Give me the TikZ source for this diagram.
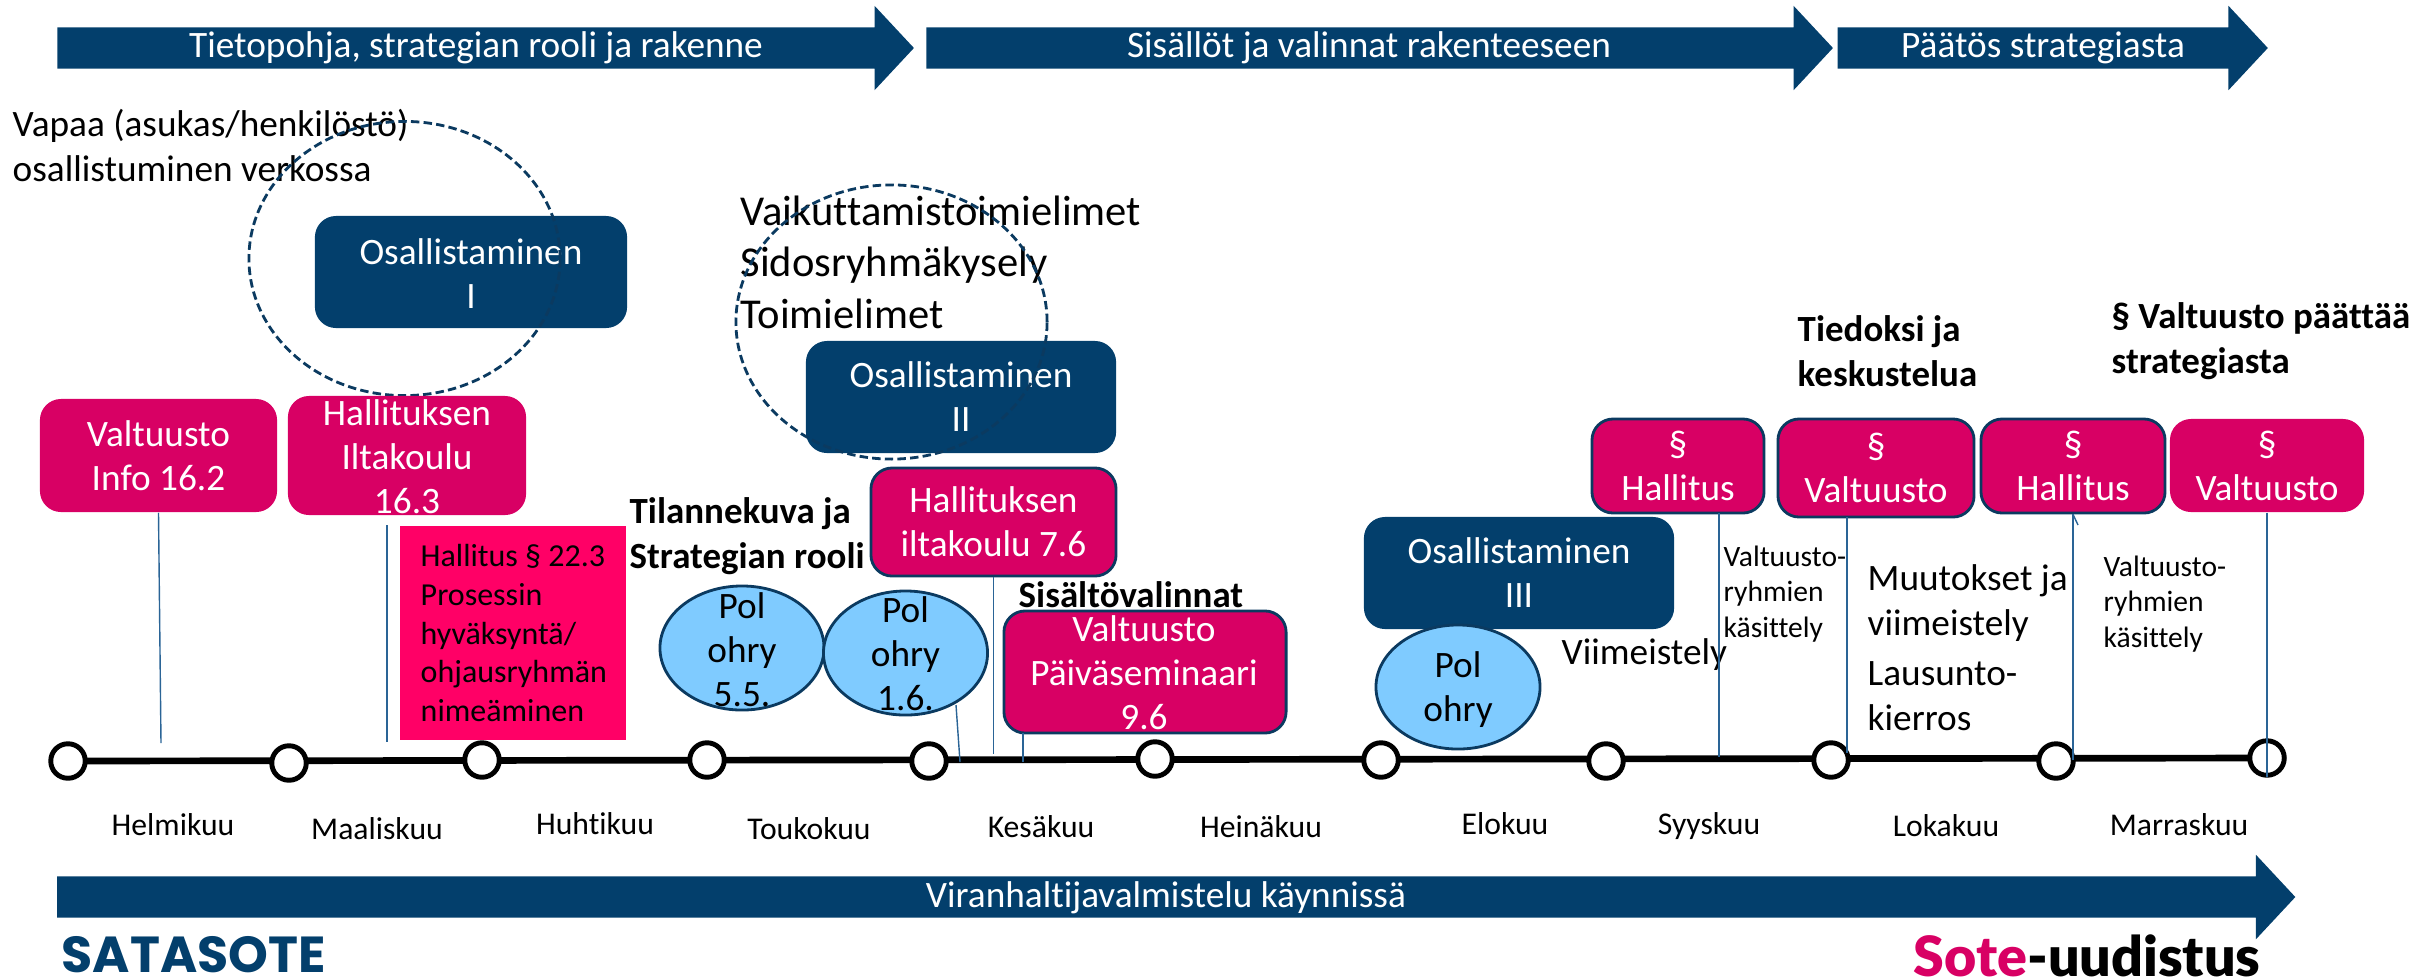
\documentclass[tikz,border=0pt]{standalone}
\usepackage{fontspec}
\setmainfont{Carlito}[Ligatures=NoCommon]
\newfontfamily\logofont{Lato Black}
\newfontfamily\satafont{Poppins}[UprightFont=* Bold]
\usetikzlibrary{positioning}
\usetikzlibrary{shapes.geometric}
\usetikzlibrary{shapes.arrows}
\definecolor{navy}{HTML}{033F6C}
\definecolor{magenta}{HTML}{D80064}
\definecolor{hotred}{HTML}{FF0066}
\definecolor{sky}{HTML}{7FCBFF}
\definecolor{rim}{HTML}{0B3A60}
\definecolor{leader}{HTML}{2A6496}
\tikzset{band/.style={single arrow,fill=navy,inner sep=0pt,text height=4mm,text depth=0pt,minimum width=8.3mm,single arrow head extend=2.15mm,single arrow tip angle=94}}
\tikzset{bandtext/.style={text=white,inner sep=0pt,font=\fontsize{10.6}{12.5}\selectfont}}
\tikzset{navybox/.style={fill=navy,rounded corners=6pt,inner sep=0pt}}
\tikzset{pinkbox/.style={fill=magenta,rounded corners=6pt,inner sep=0pt}}
\tikzset{rimbox/.style={pinkbox,draw=rim,line width=0.8pt}}
\tikzset{boxtext/.style={text=white,align=center,inner sep=0pt,font=\fontsize{10.6}{12.5}\selectfont}}
\tikzset{plain/.style={anchor=west,align=left,inner sep=0pt,font=\fontsize{10.6}{12.8}\selectfont}}
\tikzset{big/.style={plain,font=\fontsize{12.1}{14.65}\selectfont}}
\tikzset{heavy/.style={plain,font=\fontsize{10.5}{12.7}\selectfont\bfseries}}
\tikzset{small/.style={plain,font=\fontsize{8.4}{10}\selectfont}}
\tikzset{month/.style={inner sep=0pt,font=\fontsize{9}{10}\selectfont}}
\tikzset{ring/.style={draw=rim,dash pattern=on 2.4pt off 1.2pt,line width=0.8pt,ellipse,inner sep=0pt,minimum width=31.1cm/10,minimum height=27.4cm/10}}
\tikzset{pol/.style={draw=rim,fill=sky,line width=0.8pt,ellipse,inner sep=0pt,minimum width=16.4mm,minimum height=12.4mm}}
\tikzset{polname/.style={align=center,inner sep=0pt,font=\fontsize{10.6}{12.5}\selectfont}}
\tikzset{vert/.style={draw,circle,fill=white,line width=1.4pt,inner sep=0pt,minimum size=10mm/2.9}}
\tikzset{spine/.style={line width=1.9pt}}
\tikzset{tick/.style={draw=leader,line width=0.4pt}}

\begin{document}
\begin{tikzpicture}[x=0.01cm,y=-0.01cm]
\useasboundingbox (0,0) rectangle (2425,978);

\node[band,minimum height=85.6mm] (phaseA) at (476,48) {};
\node[band,minimum height=90.6mm] (phaseB) at (1370,48) {};
\node[band,minimum height=43mm] (phaseC) at (2043,48) {};
\node[band,minimum height=223.7mm] (phaseD) at (1166.5,897) {};
\node[bandtext] (phaseAt) at (476,48) {Tietopohja, strategian rooli ja rakenne};
\node[bandtext] (phaseBt) at (1369,48) {Sisällöt ja valinnat rakenteeseen};
\node[bandtext] (phaseCt) at (2043,48) {Päätös strategiasta};
\node[bandtext] (phaseDt) at (1166,898) {Viranhaltijavalmistelu käynnissä};

\node[plain] (free) at (12,145) {Vapaa (asukas/henkilöstö)\\osallistuminen verkossa};
\node[navybox,minimum width=31.2mm,minimum height=11.2mm] (osA) at (471,272) {};
\node[boxtext] (osAt) at (471,274) {Osallistaminen\\I};
\node[ring] (ringA) at (404.5,258.5) {};

\node[big] (bodies) at (740,262) {Vaikuttamistoimielimet\\Sidosryhmäkysely\\Toimielimet};
\node[navybox,minimum width=31mm,minimum height=11.2mm,boxtext] (osB) at (961,397) {Osallistaminen\\II};
\node[ring] (ringB) at (891.5,322) {};

\node[pinkbox,minimum width=23.7mm,minimum height=11.3mm,boxtext] (info) at (158.5,455.5) {Valtuusto\\Info 16.2};
\node[pinkbox,minimum width=23.8mm,minimum height=11.9mm] (eveA) at (407,455.5) {};
\node[boxtext] (eveAt) at (407,457) {Hallituksen\\Iltakoulu\\16.3};

\node[fill=hotred,minimum width=22.6mm,minimum height=21.4mm,inner sep=0pt] (red) at (513,633) {};
\node[plain,font=\fontsize{9.1}{11}\selectfont] (redt) at (420,633) {Hallitus § 22.3\\Prosessin\\hyväksyntä/\\ohjausryhmän\\nimeäminen};

\node[heavy] (state) at (629,536) {Tilannekuva ja\\Strategian rooli};
\node[pol] (polA) at (742,648) {};
\node[polname] (polAt) at (742,650) {Pol\\ohry\\5.5.};
\node[pol] (polB) at (905.5,653) {};
\node[polname] (polBt) at (905.5,654) {Pol\\ohry\\1.6.};

\node[rimbox,minimum width=24.5mm,minimum height=10.8mm,boxtext] (eveB) at (993.5,522) {Hallituksen\\iltakoulu 7.6};
\node[heavy] (content) at (1018,595) {Sisältövalinnat};
\node[rimbox,minimum width=28.2mm,minimum height=12.2mm] (day) at (1145,672) {};
\node[boxtext] (dayt) at (1144,673) {Valtuusto\\Päiväseminaari\\9.6};

\node[navybox,minimum width=31mm,minimum height=11.2mm,boxtext] (osC) at (1519,573) {Osallistaminen\\III};
\node[pol] (polC) at (1458,687) {};
\node[polname] (polCt) at (1458,690) {Pol\\ohry};
\node[plain] (finish) at (1561,655) {Viimeistely};

\node[rimbox,minimum width=17.2mm,minimum height=9.4mm,boxtext] (govA) at (1678,466) {§\\Hallitus};
\node[rimbox,minimum width=19.6mm,minimum height=9.8mm,boxtext] (counA) at (1876,468) {§\\Valtuusto};
\node[rimbox,minimum width=18.4mm,minimum height=9.4mm,boxtext] (govB) at (2073,466) {§\\Hallitus};
\node[pinkbox,minimum width=19.4mm,minimum height=9.3mm,boxtext] (counB) at (2267,465.5) {§\\Valtuusto};

\node[heavy] (notice) at (1797,351) {Tiedoksi ja\\keskustelua};
\node[heavy] (decide) at (2111,341) {§ Valtuusto päättää\\strategiasta};
\node[small] (groupA) at (1723,594) {Valtuusto-\\ryhmien\\käsittely};
\node[plain] (edits) at (1867,648) {Muutokset ja\\viimeistely\\[1.5pt]Lausunto-\\kierros};
\node[small] (groupB) at (2103,604) {Valtuusto-\\ryhmien\\käsittely};

\coordinate (axisL) at (68,761);
\coordinate (axisR) at (2267,758);
\draw[spine] (axisL) -- (axisR);
\node[vert] (m1) at (68,761) {};
\node[vert] (m2) at (289,763) {};
\node[vert] (m3) at (482,760) {};
\node[vert] (m4) at (707,760) {};
\node[vert] (m5) at (929,761) {};
\node[vert] (m6) at (1155,759) {};
\node[vert] (m7) at (1381,760) {};
\node[vert] (m8) at (1606,761) {};
\node[vert] (m9) at (1831,760) {};
\node[vert] (m10) at (2056,761) {};
\node[vert] (m11) at (2267,758) {};

\coordinate (tA) at (161,743);
\coordinate (tBa) at (387,525);
\coordinate (tBb) at (387,742);
\coordinate (tCa) at (956,705);
\coordinate (tCb) at (960,762);
\coordinate (tD) at (993.5,754);
\coordinate (tEa) at (1023,733);
\coordinate (tEb) at (1023,762);
\coordinate (tFa) at (1719,513);
\coordinate (tFb) at (1719,757);
\coordinate (tGa) at (1847,517);
\coordinate (tGb) at (1847,753);
\coordinate (tH) at (2073,760);
\coordinate (tHs) at (2078,525);
\coordinate (tI) at (2267,777);
\draw[tick] (info.south) -- (tA);
\draw[tick] (tBa) -- (tBb);
\draw[tick] (tCa) -- (tCb);
\draw[tick] (eveB.south) -- (tD);
\draw[tick] (tEa) -- (tEb);
\draw[tick] (tFa) -- (tFb);
\draw[tick] (tGa) -- (tGb);
\draw[tick] (govB.south) -- (tH);
\draw[tick] (govB.south) -- (tHs);
\draw[tick] (counB.south) -- (tI);

\node[month] (feb) at (173,825) {Helmikuu};
\node[month] (mar) at (377,829) {Maaliskuu};
\node[month] (apr) at (595,824) {Huhtikuu};
\node[month] (may) at (809,829) {Toukokuu};
\node[month] (jun) at (1041,827) {Kesäkuu};
\node[month] (jul) at (1261,827) {Heinäkuu};
\node[month] (aug) at (1505,824) {Elokuu};
\node[month] (sep) at (1709,826) {Syyskuu};
\node[month] (oct) at (1946,826) {Lokakuu};
\node[month] (nov) at (2179,825) {Marraskuu};

\node[anchor=west,inner sep=0pt,text=navy,font=\satafont\fontsize{14.4}{16}\selectfont] (satasote) at (61,955) {SATASOTE};
\node[anchor=west,inner sep=0pt,font=\logofont\fontsize{15.8}{17}\selectfont] (sote) at (1913,956) {\textcolor{magenta}{Sote}-uudistus};
\end{tikzpicture}
\end{document}
